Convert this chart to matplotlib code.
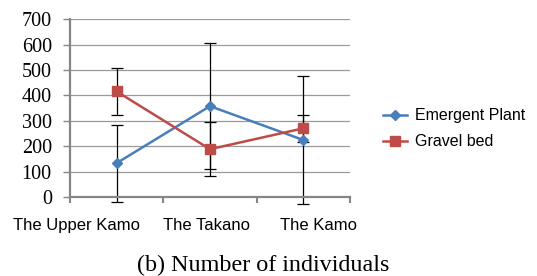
import matplotlib.pyplot as plt

sites = ['The Upper Kamo', 'The Takano', 'The Kamo']
emergent = [134, 358, 225]
emergent_err = [151, 247, 250]
gravel = [416, 189, 271]
gravel_err = [93, 107, 52]
yticks = [0, 100, 200, 300, 400, 500, 600, 700]

blue = '#4a7ebb'
red = '#be4b48'
axis_gray = '#868686'

fig = plt.figure(figsize=(5.37, 2.76), dpi=100)
ax = fig.add_axes([0.130, 0.285, 0.522, 0.646])

x = list(range(len(sites)))

# error bars underneath the lines, allowed to run below zero
for vals, errs in [(emergent, emergent_err), (gravel, gravel_err)]:
    eb = ax.errorbar(x, vals, yerr=errs, fmt='none', ecolor='black',
                     elinewidth=0.9, capsize=4.5, capthick=0.9, zorder=2)
    for art in eb.lines[1] + eb.lines[2]:
        art.set_clip_on(False)

ax.plot(x, emergent, color=blue, lw=1.8, marker='D', ms=5.5,
        label='Emergent Plant', zorder=3)
ax.plot(x, gravel, color=red, lw=1.8, marker='s', ms=7,
        label='Gravel bed', zorder=3)

ax.set_xlim(-0.5, 2.5)
ax.set_ylim(0, 700)
ax.set_yticks(yticks)
ax.set_yticklabels([str(v) for v in yticks], family='Liberation Serif', fontsize=14.5)

# labels are nudged sideways like the original so they don't collide
label_pos = [-0.43, 0.96, 2.16]
ax.set_xticks(label_pos)
ax.set_xticklabels(sites, family='Liberation Sans', fontsize=12)
ax.set_xticks([-0.5, 0.5, 1.5, 2.5], minor=True)
ax.tick_params(axis='x', which='major', length=0, pad=15)
ax.tick_params(axis='x', which='minor', length=4, width=1.5, color=axis_gray, direction='out')
ax.tick_params(axis='y', length=5, width=1, color=axis_gray, pad=8)

ax.yaxis.grid(True, color='#9a9a9a', lw=0.9)
ax.set_axisbelow(True)
for s in ['top', 'right']:
    ax.spines[s].set_visible(False)
for s in ['left', 'bottom']:
    ax.spines[s].set_color(axis_gray)
    ax.spines[s].set_linewidth(1.6)
    ax.spines[s].set_zorder(4)

leg = ax.legend(loc='center left', bbox_to_anchor=(1.065, 0.385), frameon=False,
                prop={'family': 'Liberation Sans', 'size': 11.5},
                handlelength=1.5, handletextpad=0.5, labelspacing=0.68)

fig.text(0.49, 0.04, '(b) Number of individuals', ha='center', va='center',
         family='Liberation Serif', fontsize=17.4)

fig.savefig('out.png', dpi=100)
